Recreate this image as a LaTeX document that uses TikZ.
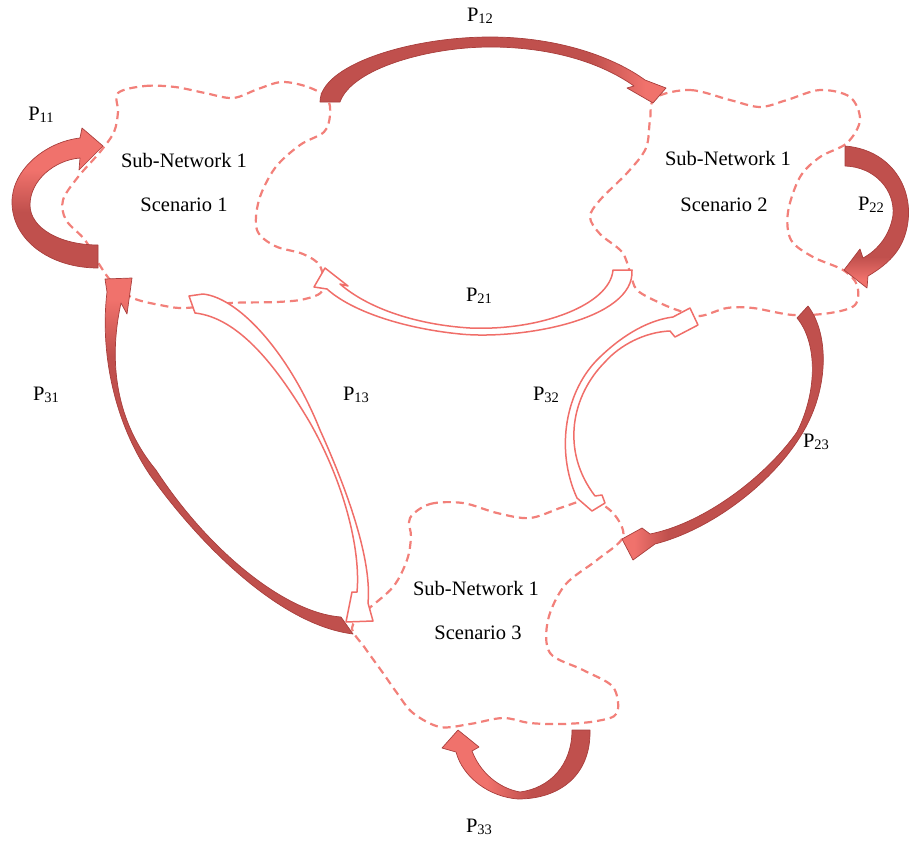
\documentclass[tikz,border=0pt]{standalone}
\usepackage{fontspec}
\setmainfont{Liberation Serif}

\definecolor{cloudred}{RGB}{242,128,122}
\definecolor{arrdark}{RGB}{192,80,77}
\definecolor{arrlight}{RGB}{240,114,108}
\definecolor{arredge}{RGB}{168,62,60}
\definecolor{hollowred}{RGB}{240,110,105}

% fills for the solid curved arrows: dark body, lighter tip side (tip at the top)
\pgfdeclareverticalshading{tipfade}{100bp}{color(0bp)=(arrdark); color(64bp)=(arrdark); color(72bp)=(arrlight); color(100bp)=(arrlight)}
\pgfdeclareverticalshading{halffade}{100bp}{color(0bp)=(arrdark); color(45bp)=(arrdark); color(60bp)=(arrlight); color(100bp)=(arrlight)}

\newcommand{\plab}[1]{P\raisebox{-1.5pt}{\fontsize{14.5}{15}\selectfont #1}}

\tikzset{
  cloudline/.style={draw=cloudred, line width=2.2pt, dash pattern=on 8pt off 5pt, line join=round},
  solidarrow/.style={draw=arredge, line width=0.7pt, line join=round},
  hollowarrow/.style={draw=hollowred, fill=white, line width=1.5pt, line join=round},
  lbl/.style={font=\fontsize{20.5}{24}\selectfont, text=black, inner sep=0pt},
}

\begin{document}
\begin{tikzpicture}[x=1pt, y=-1pt]
\useasboundingbox (0,0) rectangle (910,843);

% ---- sub-network clouds ----
\draw[cloudline] plot[smooth cycle, tension=0.55] coordinates {(118,93) (145,86) (175,87) (205,93) (233,98) (258,89) (282,82) (308,87) (327,98) (330,115) (324,132) (300,145) (275,168) (259,200) (257,230) (275,246) (303,254) (320,266) (323,290) (305,299) (277,302) (230,303) (185,308) (160,305) (133,298) (112,282) (99,264) (85,240) (66,220) (63,200) (78,177) (100,152) (114,132) (118,112)};

\draw[cloudline] plot[smooth cycle, tension=0.55] coordinates {(655,98) (690,90) (730,100) (760,107) (787,100) (820,90) (850,97) (860,120) (847,143) (820,157) (800,177) (788,212) (791,240) (813,257) (843,270) (857,285) (855,305) (830,313) (793,315) (753,308) (727,308) (700,316) (680,311) (660,303) (637,290) (630,272) (622,252) (600,234) (590,217) (600,200) (628,172) (646,148) (650,120)};

\draw[cloudline] plot[smooth cycle, tension=0.55] coordinates {(410,518) (430,504) (463,503) (497,513) (530,518) (563,507) (590,500) (613,513) (623,537) (597,560) (565,585) (548,620) (550,653) (583,670) (613,687) (617,713) (597,721) (563,724) (530,723) (503,718) (470,724) (440,727) (413,713) (397,693) (383,673) (365,648) (352,628) (365,612) (393,587) (407,560) (411,537)};

% ---- cloud captions ----
\node[lbl] (s1a) at (184,160) {Sub-Network 1};
\node[lbl] (s1b) at (184,205) {Scenario 1};
\node[lbl] (s2a) at (728,158) {Sub-Network 1};
\node[lbl] (s2b) at (724,205) {Scenario 2};
\node[lbl] (s3a) at (476,588) {Sub-Network 1};
\node[lbl] (s3b) at (478,633) {Scenario 3};

% ---- solid curved arrows ----
% P11 self loop
\shadedraw[solidarrow, shading=halffade] (98,245) -- (98,268) .. controls (50,268) and (12,240) .. (12,202) .. controls (12,170) and (45,142) .. (80,138) -- (82,128) -- (103,146) -- (79,170) -- (80,158) .. controls (55,160) and (30,180) .. (30,205) .. controls (30,228) and (60,245) .. (98,245) -- cycle;
% P12
\shadedraw[solidarrow, shading=tipfade, shading angle=-90] (320,102) .. controls (320,65) and (410,37) .. (490,37) .. controls (560,37) and (615,58) .. (645,80) -- (666,88) -- (653,103) -- (627,88) -- (634,86) .. controls (600,62) and (550,47) .. (490,47) .. controls (430,47) and (352,68) .. (340,102) -- cycle;
% P22 self loop
\shadedraw[solidarrow, shading=tipfade, shading angle=180] (845,146) .. controls (895,150) and (918,195) .. (905,235) .. controls (899,254) and (885,266) .. (868,276) -- (867,288) -- (844,270) -- (860,249) -- (863,258) .. controls (878,250) and (890,235) .. (893,215) .. controls (895,190) and (875,167) .. (845,166) -- cycle;
% P33 self loop
\shadedraw[solidarrow, shading=halffade, shading angle=90] (590,730) .. controls (591,775) and (560,799) .. (518,799) .. controls (490,797) and (463,778) .. (456,752) -- (442,748) -- (458,730) -- (479,747) -- (472,751) .. controls (480,772) and (498,788) .. (520,792) .. controls (550,788) and (572,765) .. (572,730) -- cycle;
% P31
\shadedraw[solidarrow, shading=tipfade] (107,292) .. controls (100,350) and (113,420) .. (150,475) .. controls (200,545) and (280,625) .. (353,634) -- (341,617) .. controls (285,613) and (208,550) .. (156,470) .. controls (116,422) and (108,362) .. (121,303) -- (127,314) -- (132,278) -- (105,279) -- cycle;
% P23
\shadedraw[solidarrow, shading=tipfade, shading angle=90] (808,306) .. controls (830,335) and (829,392) .. (800,437) .. controls (770,485) and (710,530) .. (655,544) -- (633,560) -- (622,539) -- (642,528) -- (650,534) .. controls (705,523) and (766,476) .. (797,432) .. controls (818,390) and (817,342) .. (797,318) -- cycle;

% ---- hollow curved arrows ----
% P21
\filldraw[hollowarrow] (613,270) -- (632,270) .. controls (635,320) and (520,340) .. (460,334) .. controls (400,328) and (350,310) .. (327,289) -- (314,287) -- (325,268) -- (348,286) -- (340,284) .. controls (370,310) and (420,325) .. (470,328) .. controls (540,331) and (610,305) .. (613,270) -- cycle;
% P13
\filldraw[hollowarrow] (203,294) .. controls (240,298) and (290,355) .. (320,430) .. controls (348,492) and (372,560) .. (368,603) -- (373,621) -- (346,622) -- (352,592) -- (357,592) .. controls (361,548) and (343,480) .. (309,421) .. controls (278,369) and (240,318) .. (195,313) -- (189,296) -- cycle;
% P32
\filldraw[hollowarrow] (577,498) .. controls (555,450) and (565,390) .. (600,357) .. controls (625,333) and (650,320) .. (673,317) -- (690,308) -- (698,325) -- (675,337) -- (670,331) .. controls (645,332) and (620,345) .. (605,362) .. controls (572,395) and (560,450) .. (595,496) -- (602,495) -- (605,503) -- (592,511) -- cycle;

% ---- transition labels ----
\node[lbl] (p11) at (41,115) {\plab{11}};
\node[lbl] (p12) at (480,16) {\plab{12}};
\node[lbl] (p22) at (871,205) {\plab{22}};
\node[lbl] (p21) at (479,296) {\plab{21}};
\node[lbl] (p13) at (356,395) {\plab{13}};
\node[lbl] (p31) at (46,395) {\plab{31}};
\node[lbl] (p32) at (546,395) {\plab{32}};
\node[lbl] (p23) at (816,442) {\plab{23}};
\node[lbl] (p33) at (479,827) {\plab{33}};
\end{tikzpicture}
\end{document}
